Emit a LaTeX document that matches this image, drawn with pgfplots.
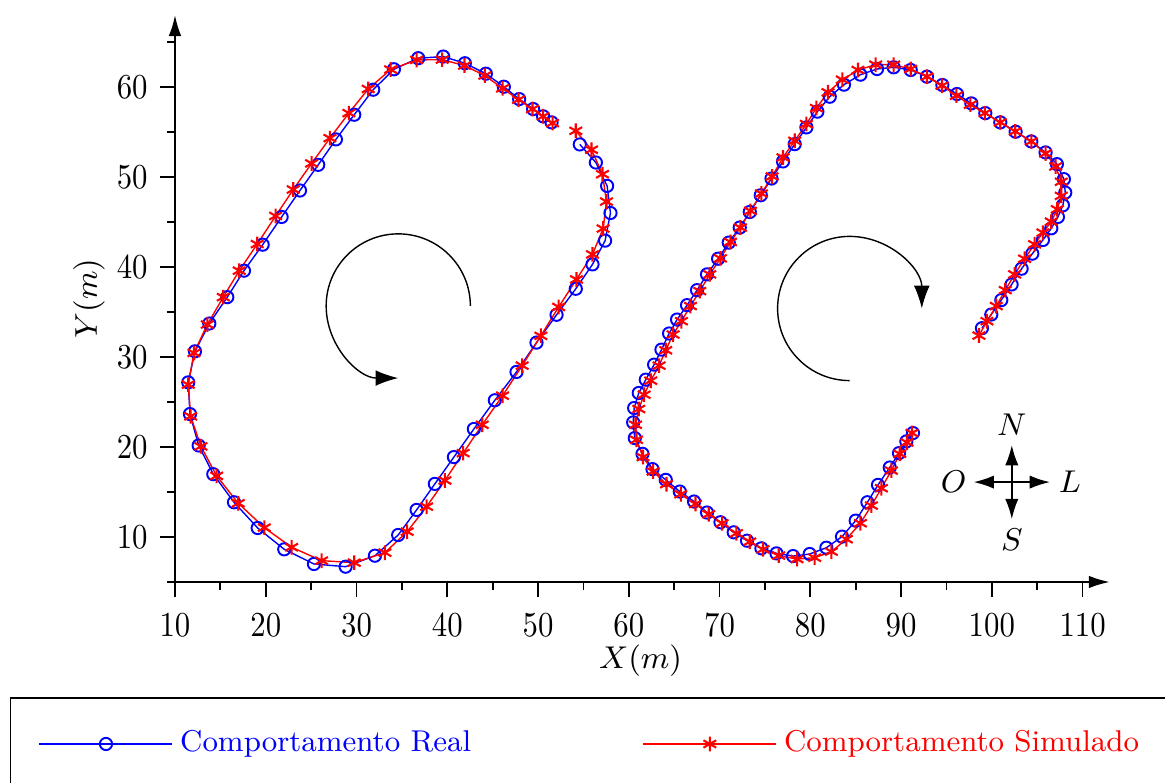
\documentclass[border=0pt]{standalone}
\usepackage{graphicx}
\usepackage{pgfplots}
\pgfplotsset{compat=1.18}
\usetikzlibrary{arrows.meta}

\begin{document}
\begin{tikzpicture}
\path[use as bounding box] (-50pt,-57.43pt) rectangle (282.86pt,166.29pt);
\clip (-50pt,-57.43pt) rectangle (282.86pt,166.29pt);
\begin{axis}[
  at={(0pt,0pt)}, anchor=south west,
  scale only axis,
  width=267.1pt, height=162pt,
  xmin=10, xmax=113, ymin=5, ymax=68,
  axis lines=left,
  axis line style={line width=0.6pt, -{Latex[length=6pt,width=3.6pt]}},
  tick align=outside,
  major tick length=4.3pt, minor tick length=2.3pt,
  tick style={black, line width=0.5pt},
  xtick={10,20,...,110}, ytick={10,20,...,60},
  minor xtick={15,25,...,105}, minor ytick={5,15,...,65},
  ticklabel style={font=\fontsize{10.4}{12}\selectfont},
  xticklabel style={yshift=-1.2pt},
  xticklabel={\scalebox{0.88}[1]{\axisdefaultticklabel}},
  yticklabel={\scalebox{0.88}[1]{\axisdefaultticklabel}},
  label style={font=\fontsize{9.5}{11}\selectfont},
  xlabel={$X(m)$}, ylabel={$Y(m)$},
  xlabel style={at={(axis description cs:0.498,-0.139)}, anchor=center},
  ylabel style={at={(axis description cs:-0.092,0.5)}, anchor=center},
  legend columns=2,
  legend cell align=left,
  legend image code/.code={\draw[mark repeat=2,mark phase=2,#1] plot coordinates {(0pt,0pt) (19pt,0pt) (38pt,0pt)};},
  legend style={at={(axis description cs:-0.1764,-0.2031)}, anchor=north west,
    draw=black, line width=0.4pt, inner xsep=8pt, inner ysep=7.4pt,
    font=\fontsize{8.6}{10.5}\selectfont,
    /tikz/every even column/.append style={column sep=47pt}},
]
\addplot[blue, line width=0.4pt, mark=o, mark size=1.75pt, mark options={line width=0.55pt}] coordinates {
(51.49,56.07)(50.56,56.74)(49.46,57.55)(47.92,58.66)(46.23,60.03)(44.25,61.48)(41.94,62.64)(39.55,63.38)
(36.80,63.20)(34.12,61.97)(31.84,59.70)(29.75,56.92)(27.73,54.18)(25.78,51.35)(23.77,48.50)(21.75,45.56)
(19.66,42.48)(17.60,39.59)(15.76,36.65)(13.78,33.72)(12.20,30.63)(11.46,27.18)(11.65,23.66)(12.61,20.17)
(14.22,16.98)(16.50,13.86)(19.11,11.00)(22.04,8.63)(25.31,7.00)(28.80,6.70)(32.03,7.92)(34.59,10.22)
(36.62,13.01)(38.63,15.90)(40.73,18.88)(42.93,22.00)(45.24,25.19)(47.63,28.34)(49.83,31.60)(52.04,34.69)
(54.16,37.58)(56.00,40.29)(57.39,42.93)(57.98,46.00)(57.61,49.01)(56.37,51.61)(54.60,53.62)
};
\addlegendentry{\textcolor{blue}{Comportamento Real}}
\addplot[red, line width=0.4pt, mark=asterisk, mark size=2.1pt, mark options={line width=0.6pt}] coordinates {
(51.60,55.99)(50.56,56.74)(49.39,57.55)(47.85,58.59)(46.09,59.85)(44.14,61.27)(41.90,62.38)(39.44,63.04)
(36.62,63.01)(33.76,61.94)(31.29,59.78)(29.16,57.10)(27.07,54.32)(25.05,51.51)(23.03,48.61)(21.09,45.67)
(19.06,42.55)(17.08,39.59)(15.32,36.65)(13.56,33.61)(12.09,30.45)(11.46,26.93)(11.73,23.41)(12.86,20.07)
(14.59,16.79)(16.97,13.75)(19.84,11.04)(22.85,8.86)(26.15,7.37)(29.75,7.15)(33.13,8.26)(35.58,10.59)
(37.72,13.37)(39.74,16.28)(41.75,19.32)(43.85,22.47)(46.09,25.70)(48.25,29.04)(50.31,32.35)(52.27,35.56)
(54.24,38.62)(56.00,41.40)(57.17,44.27)(57.54,47.27)(57.10,50.31)(55.89,53.03)(54.16,55.13)
};
\addlegendentry{\textcolor{red}{Comportamento Simulado}\hspace*{15pt}}
\addplot[forget plot, blue, line width=0.4pt, mark=o, mark size=1.75pt, mark options={line width=0.55pt}] coordinates {
(91.31,21.55)(90.58,20.62)(89.77,19.32)(88.75,17.72)(87.46,15.79)(86.29,13.86)(85.00,11.82)(83.49,10.04)
(81.77,8.81)(79.93,8.11)(78.10,7.88)(76.27,8.18)(74.61,8.74)(73.03,9.59)(71.56,10.52)(70.10,11.64)
(68.62,12.72)(67.19,13.94)(65.62,15.05)(64.07,16.35)(62.61,17.54)(61.51,19.24)(60.66,20.99)(60.48,22.73)
(60.59,24.33)(61.10,26.00)(61.87,27.48)(62.79,29.15)(63.60,30.82)(64.44,32.61)(65.32,34.16)(66.42,35.76)
(67.52,37.43)(68.62,39.18)(69.84,40.92)(71.01,42.71)(72.22,44.38)(73.33,46.11)(74.54,47.97)(75.72,49.83)
(76.99,51.73)(78.28,53.65)(79.57,55.51)(80.78,57.26)(82.14,58.92)(83.71,60.26)(85.52,61.37)(87.35,62.00)
(89.18,62.19)(91.06,61.89)(92.85,61.15)(94.55,60.22)(96.16,59.22)(97.74,58.18)(99.28,57.10)(100.93,56.07)
(102.62,55.03)(104.35,53.95)(105.92,52.73)(107.17,51.43)(107.94,49.76)(108.09,48.27)(107.83,46.86)(107.28,45.56)
(106.55,44.30)(105.63,43.00)(104.46,41.48)(103.28,39.81)(102.18,38.06)(101.04,36.32)(99.94,34.72)(98.91,33.20)
};
\addplot[forget plot, red, line width=0.4pt, mark=asterisk, mark size=2.1pt, mark options={line width=0.6pt}] coordinates {
(91.20,21.55)(90.65,20.51)(89.85,19.24)(88.93,17.38)(87.83,15.42)(86.73,13.49)(85.52,11.53)(83.97,9.75)
(82.32,8.37)(80.48,7.70)(78.54,7.55)(76.52,7.93)(74.79,8.63)(73.33,9.48)(71.86,10.41)(70.28,11.53)
(68.81,12.53)(67.35,13.67)(65.73,14.75)(64.15,15.87)(62.68,17.28)(61.57,18.88)(60.85,20.80)(60.74,22.47)
(61.10,24.22)(61.69,25.81)(62.42,27.37)(63.34,29.04)(64.07,30.75)(64.88,32.50)(65.80,33.98)(66.79,35.66)
(67.82,37.32)(68.92,39.18)(70.10,40.96)(71.20,42.78)(72.30,44.38)(73.40,46.23)(74.61,48.16)(75.79,50.06)
(76.99,52.17)(78.28,54.02)(79.57,55.88)(80.67,57.66)(81.95,59.41)(83.53,60.81)(85.25,61.89)(87.20,62.48)
(89.18,62.48)(91.06,62.00)(92.85,61.15)(94.51,60.15)(96.09,59.04)(97.63,58.04)(99.24,57.10)(100.93,56.07)
(102.58,55.07)(104.35,53.95)(105.92,52.62)(107.03,51.17)(107.65,49.47)(107.65,47.90)(107.21,46.41)(106.55,45.04)
(105.63,43.82)(104.71,42.52)(103.61,40.92)(102.51,39.18)(101.48,37.43)(100.49,35.66)(99.46,33.98)(98.58,32.38)
};
% rotation arrows
\draw[line width=0.4pt, -{Latex[length=6.5pt,width=4.5pt]}] ([xshift=20.6pt]axis cs:34.6,35.67) arc[start angle=0, end angle=270, radius=20.6pt];
\draw[line width=0.4pt, -{Latex[length=6.5pt,width=4.5pt]}] ([yshift=-20.6pt]axis cs:84.34,35.39) arc[start angle=270, end angle=0, radius=20.6pt];
% compass
\coordinate (C) at (axis cs:102.2,16.1);
\draw[line width=0.5pt, {Latex[length=5.8pt,width=3.8pt]}-{Latex[length=5.8pt,width=3.8pt]}] ([yshift=-10.6pt]C) -- ([yshift=10.6pt]C);
\draw[line width=0.5pt, {Latex[length=5.8pt,width=3.8pt]}-{Latex[length=5.8pt,width=3.8pt]}] ([xshift=-10.9pt]C) -- ([xshift=10.9pt]C);
\node[font=\fontsize{8.8}{10}\selectfont] at ([yshift=16.3pt]C) {$N$};
\node[font=\fontsize{8.8}{10}\selectfont] at ([yshift=-16.5pt]C) {$S$};
\node[font=\fontsize{8.8}{10}\selectfont] at ([xshift=-16.6pt]C) {$O$};
\node[font=\fontsize{8.8}{10}\selectfont] at ([xshift=16.6pt]C) {$L$};
\end{axis}
\end{tikzpicture}
\end{document}
